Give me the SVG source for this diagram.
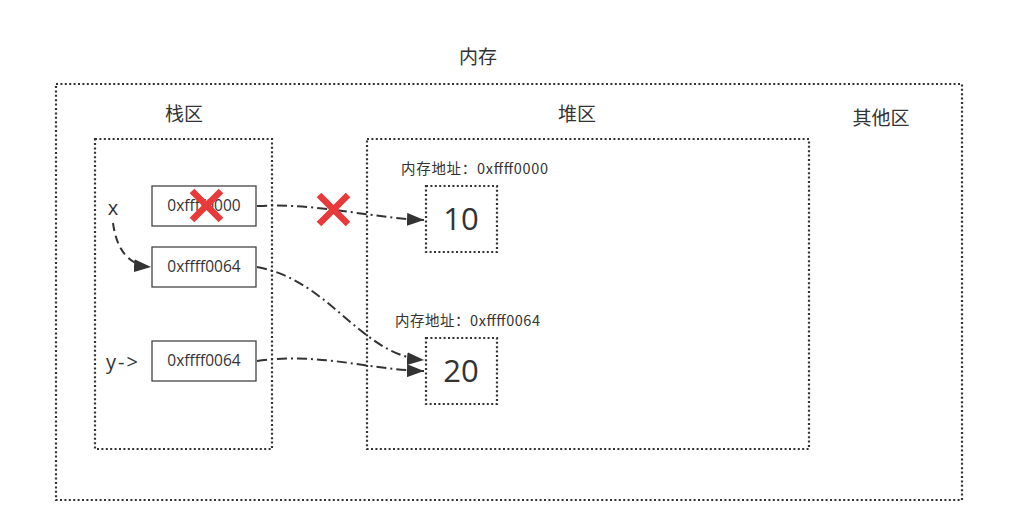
<svg xmlns="http://www.w3.org/2000/svg" width="1026" height="513" viewBox="0 0 1026 513">
<style>
.zone{fill:none;stroke:#333;stroke-width:2.2;stroke-dasharray:2 2.4}
.cell{fill:#fff;stroke:#444;stroke-width:1.3}
.lbl{font-family:"Noto Sans CJK SC","Noto Sans",sans-serif;fill:#333}
.t{font-family:"Open Sans","Noto Sans",sans-serif;fill:#333}
.con{fill:none;stroke:#333;stroke-width:2;stroke-dasharray:10 4 2 4}
.dash{fill:none;stroke:#333;stroke-width:2;stroke-dasharray:8 5}
.x{stroke:#e83a3a;stroke-width:6.5;stroke-linecap:butt}
</style>
<defs>
<marker id="ah" viewBox="0 0 10 10" refX="10" refY="5" markerWidth="17" markerHeight="13" markerUnits="userSpaceOnUse" orient="auto" preserveAspectRatio="none">
<path d="M0,0 L10,5 L0,10 Z" fill="#333"/>
</marker>
</defs>
<rect width="1026" height="513" fill="#fff"/>
<g id="memory">
<rect class="zone" x="56" y="84" width="906" height="416"/>
<text class="lbl" x="478" y="64" font-size="19" text-anchor="middle">内存</text>
<text class="lbl" x="881" y="125" font-size="19" text-anchor="middle">其他区</text>
</g>
<g id="stack">
<rect class="zone" x="95" y="139" width="177" height="310"/>
<text class="lbl" x="184" y="121" font-size="19" text-anchor="middle">栈区</text>
</g>
<g id="heap">
<rect class="zone" x="367" y="139" width="442" height="310"/>
<text class="lbl" x="577" y="121" font-size="19" text-anchor="middle">堆区</text>
</g>
<g id="var-x">
<text class="t" x="113" y="215" font-size="20" text-anchor="middle">x</text>
</g>
<g id="var-y">
<text class="t" x="106" y="369" font-size="20" letter-spacing="2">y-&gt;</text>
</g>
<g id="cell1">
<rect class="cell" x="152" y="186" width="104" height="40"/>
<text class="t" x="204" y="211" font-size="15.5" text-anchor="middle">0xffff0000</text>
</g>
<g id="cell2">
<rect class="cell" x="152" y="247" width="104" height="40"/>
<text class="t" x="204" y="272" font-size="15.5" text-anchor="middle">0xffff0064</text>
</g>
<g id="cell3">
<rect class="cell" x="152" y="341" width="104" height="40"/>
<text class="t" x="204" y="366" font-size="15.5" text-anchor="middle">0xffff0064</text>
</g>
<g id="heap10">
<text class="lbl" x="401" y="174" font-size="14.5" textLength="147">内存地址：0xffff0000</text>
<rect class="zone" x="426" y="186" width="71" height="66"/>
<text class="t" x="461" y="230" font-size="31" text-anchor="middle">10</text>
</g>
<g id="heap20">
<text class="lbl" x="395" y="326" font-size="14.5" textLength="145">内存地址：0xffff0064</text>
<rect class="zone" x="426" y="338" width="71" height="66"/>
<text class="t" x="461" y="382" font-size="31" text-anchor="middle">20</text>
</g>
<g id="connectors">
<path class="con" d="M257,206 C320,203 370,218 424,220" marker-end="url(#ah)"/>
<path class="dash" d="M113,223 C116,245 125,265 151,267" marker-end="url(#ah)"/>
<path class="con" d="M257,267 C330,280 360,355 424,360" marker-end="url(#ah)"/>
<path class="con" d="M257,361 C320,352 370,370 424,371" marker-end="url(#ah)"/>
</g>
<g id="cross1">
<line class="x" x1="192" y1="191" x2="221" y2="220"/>
<line class="x" x1="221" y1="191" x2="192" y2="220"/>
</g>
<g id="cross2">
<line class="x" x1="319" y1="195" x2="348" y2="224"/>
<line class="x" x1="348" y1="195" x2="319" y2="224"/>
</g>
</svg>
